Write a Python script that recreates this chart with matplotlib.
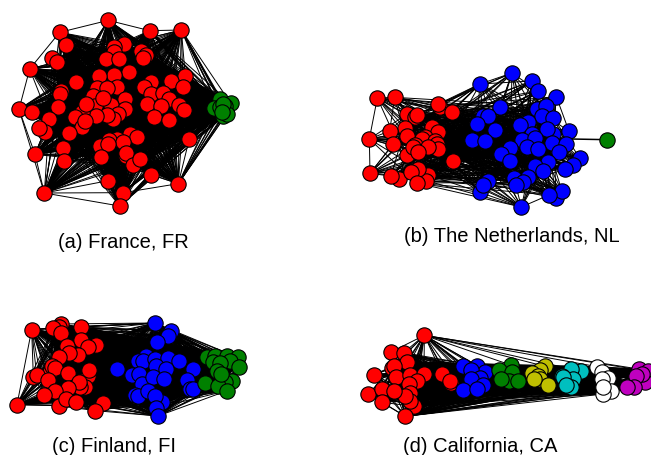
#!/usr/bin/env python3
import matplotlib
matplotlib.use('Agg')
import matplotlib.pyplot as plt
from matplotlib.collections import LineCollection

plt.rcParams['font.family'] = ['Liberation Sans', 'DejaVu Sans']

# node positions, 3x crop pixels of each panel
fr_red = [(325,64),(179,100),(449,95),(544,93),(197,138),(372,136),(342,143),(341,158),(318,181),(358,180),
          (424,155),(437,168),(430,178),(157,176),(170,190),(89,210),(387,220),(343,227),(298,231),(229,250),
          (556,232),(513,246),(453,249),(549,265),(431,265),(350,263),(290,266),(320,268),(183,277),(179,285),
          (453,285),(490,281),(508,300),(57,331),(97,340),(174,325),(374,301),(280,290),(333,318),(285,322),
          (440,316),(482,321),(538,318),(551,333),(375,330),(355,344),(340,360),(321,348),(287,352),(245,340),
          (226,353),(247,385),(255,365),(257,316),(310,296),(148,360),(134,400),(118,387),(463,354),(507,362),
          (208,403),(568,419),(389,406),(411,415),(350,420),(328,424),(368,430),(300,440),(323,435),(190,447),
          (377,472),(379,461),(303,475),(105,466),(193,487),(399,497),(421,481),(452,527),(325,545),(535,554),
          (133,582),(370,581),(359,621)]
fr_green = [(660,300),(692,313),(642,327),(675,320),(670,352),(680,345),(660,325),(668,315),(665,340)]

nl_red = [(82,132),(134,130),(270,158),(265,150),(305,175),(172,180),(195,190),(200,182),(165,222),(119,231),
          (172,245),(246,220),(265,235),(58,255),(130,269),(225,248),(215,255),(255,260),(195,272),(260,270),
          (265,285),(235,278),(170,303),(190,280),(203,293),(308,320),(60,358),(148,375),(123,367),(233,362),
          (228,380),(203,345),(182,353),(200,387)]
nl_blue = [(390,90),(486,57),(546,81),(564,111),(619,128),(451,159),(560,165),(589,157),(575,185),(610,191),
           (400,185),(415,185),(380,209),(436,227),(535,205),(511,212),(610,240),(590,226),(657,232),(367,258),
           (406,260),(545,240),(517,259),(555,253),(607,268),(648,269),(530,280),(565,285),(627,293),(480,281),
           (452,299),(479,322),(593,323),(689,312),(668,333),(646,346),(555,337),(580,352),(413,380),(390,415),
           (399,393),(533,370),(491,372),(518,385),(497,392),(618,433),(636,412),(597,423),(514,459)]
nl_green = [(770,257)]

fi_red = [(95,77),(182,60),(178,70),(160,72),(182,87),(242,69),(244,107),(287,124),(264,128),(200,126),
          (234,154),(208,148),(178,160),(150,205),(155,187),(166,191),(205,208),(265,215),(267,199),(100,218),
          (110,213),(145,227),(255,250),(240,250),(237,235),(205,252),(165,262),(133,272),(177,305),(197,285),
          (229,294),(51,302),(310,296),(286,320)]
fi_blue = [(465,57),(513,80),(503,97),(470,115),(352,196),(437,155),(415,170),(430,170),(465,165),(503,163),
           (537,172),(467,185),(499,194),(579,196),(395,212),(418,211),(425,240),(460,220),(491,224),(560,229),
           (570,255),(580,254),(405,272),(415,275),(445,262),(485,293),(465,275),(468,312),(474,336)]
fi_green = [(620,160),(645,155),(680,155),(713,160),(640,175),(690,170),(660,178),(716,190),(650,200),(695,232),
            (675,235),(615,236),(655,247),(682,260),(663,209)]

ca_red = [(208,49),(108,99),(146,101),(110,148),(157,129),(117,140),(57,167),(122,174),(165,167),(207,165),
          (185,185),(40,226),(81,211),(161,195),(165,222),(178,262),(165,245),(150,232),(117,217),(82,250),
          (151,292),(262,166),(287,192),(285,185)]
ca_blue = [(325,141),(367,140),(390,160),(348,153),(375,177),(347,180),(385,197),(325,212),(365,210)]
ca_green = [(467,138),(431,152),(470,158),(461,185),(490,187),(438,181)]
ca_yellow = [(570,142),(556,152),(530,163),(550,170),(555,180),(580,198),(537,181)]
ca_cyan = [(678,157),(648,150),(620,172),(655,180),(625,175),(648,205),(632,197)]
ca_white = [(726,143),(742,160),(760,178),(740,180),(767,215),(745,225),(745,205)]
ca_magenta = [(851,150),(880,157),(870,190),(860,165),(843,170),(838,205),(816,203)]

# edges along the rim that stand out on their own
fr_links = [((325,64),(179,100)),((325,64),(449,95)),((449,95),(544,93)),((544,93),(660,300)),((568,419),(660,320)),
            ((535,554),(670,352)),((535,554),(680,345)),((133,582),(359,621)),((133,582),(370,581)),((359,621),(325,545)),
            ((57,331),(133,582)),((57,331),(105,466)),((89,210),(57,331)),((89,210),(179,100)),((359,621),(452,527)),
            ((370,581),(535,554)),((535,554),(452,527)),((568,419),(535,554)),((544,93),(556,232)),((105,466),(133,582)),
            ((133,582),(325,545)),((133,582),(193,487))]
nl_links = [((200,387),(514,459)),((390,90),(265,150)),((390,90),(305,175)),((390,90),(486,57)),((390,90),(546,81)),
            ((486,57),(451,159)),((486,57),(564,111)),((82,132),(134,130)),((82,132),(58,255)),((58,255),(60,358)),
            ((134,130),(265,150)),((390,415),(514,459)),((413,380),(514,459)),((619,128),(657,232)),((597,423),(514,459))]
fi_links = [((95,77),(465,57)),((95,77),(51,302)),((286,320),(474,336)),((51,302),(177,305)),((465,57),(513,80)),
            ((182,60),(465,57))]
ca_links = [((208,49),(726,143)),((208,49),(851,150)),((208,49),(880,157)),((208,49),(570,142)),((208,49),(467,138)),
            ((208,49),(648,150)),((208,49),(367,140)),((208,49),(108,99)),((208,49),(146,101))]
ca_links += [(a, b) for a in ca_white for b in ca_magenta]
ca_links += [(a, b) for a in ca_cyan for b in ca_white]

captions = ['(a) France, FR', '(b) The Netherlands, NL', '(c) Finland, FI', '(d) California, CA']


def draw_graph(fig, box, groups, step, outer, links):
  # box is left, top, width, height in figure pixels
  left, top, w, h = box
  ax = fig.add_axes([left / 651, 1 - (top + h) / 456, w / 651, h / 456])
  ax.set_xlim(0, w * 3)
  ax.set_ylim(h * 3, 0)
  ax.axis('off')
  nodes = [p for pts, c in groups for p in pts]
  segs = list(links)
  for i, a in enumerate(nodes):
    for j, b in enumerate(nodes[:i]):
      if a in outer and b in outer:
        continue
      if (i * 3 + j) % step == 0:
        segs.append((a, b))
  ax.add_collection(LineCollection(segs, colors='black', linewidths=0.7, zorder=1))
  for pts, c in groups:
    xs, ys = zip(*pts)
    ax.scatter(xs, ys, s=122, c=c, edgecolors='black', linewidths=0.8, zorder=2, clip_on=False)
  return ax


fig = plt.figure(figsize=(6.51, 4.56), dpi=100)

fr_outer = [(325,64),(179,100),(449,95),(544,93),(89,210),(57,331),(105,466),(133,582),(359,621),(370,581),
            (535,554),(452,527),(325,545),(568,419),(118,387),(134,400),(197,138),(556,232),(549,265),
            (97,340),(193,487),(190,447),(157,176),(170,190)]
draw_graph(fig, (0, 0, 250, 225), [(fr_red, 'red'), (fr_green, 'green')], 1, fr_outer, fr_links)

nl_outer = (nl_red[:2] + nl_red[13:14] + nl_red[26:29] + nl_blue[:5] + nl_blue[18:19] + nl_blue[25:26]
            + nl_blue[28:29] + nl_blue[33:36] + nl_blue[38:41] + nl_blue[45:49])
ax = draw_graph(fig, (350, 55, 280, 170), [(nl_red, 'red'), (nl_blue, 'blue')], 4, nl_outer, nl_links)
# the green node hangs off one blue node only
ax.add_collection(LineCollection([(nl_green[0], nl_blue[23])], colors='black', linewidths=1.1, zorder=1))
ax.scatter(*zip(*nl_green), s=122, c='green', edgecolors='black', linewidths=0.8, zorder=2)

fi_outer = fi_blue[:4] + fi_blue[26:29] + fi_red[:2] + fi_red[31:34]
draw_graph(fig, (0, 305, 260, 130), [(fi_red, 'red'), (fi_blue, 'blue'), (fi_green, 'green')], 1, fi_outer, fi_links)

ca_outer = (ca_red[:3] + ca_red[6:7] + ca_red[11:13] + ca_red[19:20] + ca_green + ca_yellow + ca_cyan
            + ca_white + ca_magenta)
draw_graph(fig, (355, 320, 296, 110),
           [(ca_red, 'red'), (ca_blue, 'blue'), (ca_green, 'green'), (ca_yellow, '#BFBF00'),
            (ca_cyan, '#00BFBF'), (ca_white, 'white'), (ca_magenta, '#BF00BF')], 1, ca_outer, ca_links)

fig.text(123 / 651, 1 - 242.5 / 456, captions[0], ha='center', va='center', fontsize=14.5)
fig.text(511.5 / 651, 1 - 236.5 / 456, captions[1], ha='center', va='center', fontsize=14.5)
fig.text(113.5 / 651, 1 - 447 / 456, captions[2], ha='center', va='center', fontsize=14.5)
fig.text(480 / 651, 1 - 447 / 456, captions[3], ha='center', va='center', fontsize=14.5)

fig.savefig('out.png', dpi=100)
